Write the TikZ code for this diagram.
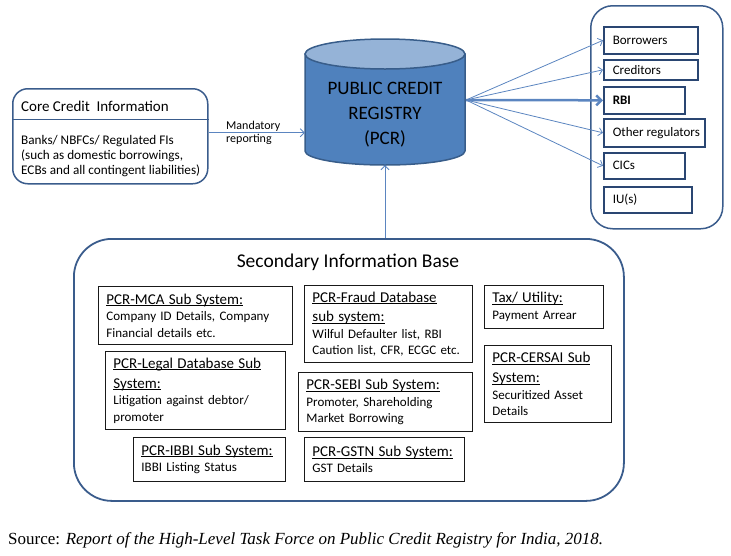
\documentclass[tikz,border=0pt]{standalone}
\usepackage{fontspec}
\setmainfont{Carlito}
\newfontfamily\capfont{Liberation Serif}
\usetikzlibrary{arrows.meta}
\definecolor{cylbody}{HTML}{4F81BD}
\definecolor{cyltop}{HTML}{95B3D7}
\definecolor{cylline}{HTML}{385D8A}
\definecolor{boxline}{HTML}{3A5C8C}
\definecolor{navy}{HTML}{2A4672}
\definecolor{conncol}{HTML}{5B85C0}
\newcommand\hd[1]{{\fontsize{15}{16.5}\selectfont\underline{\smash{#1}}\vphantom{#1}}}
\newcommand\lbox[2]{\makebox[#1][l]{#2}}
\tikzset{
  bodyfont/.style={font=\fontsize{13}{16.5}\selectfont},
  subbox/.style={draw=black!90, line width=0.9pt, rectangle, anchor=north west,
    inner xsep=8pt, inner ysep=2pt, align=left, bodyfont},
  tgtbox/.style={draw=navy, line width=1.6pt, rectangle, anchor=north west,
    inner xsep=9pt, inner ysep=0pt, font=\fontsize{13}{15}\selectfont},
  bigbox/.style={draw=boxline, line width=1.5pt, rectangle, anchor=north west},
  conn/.style={draw=conncol, line width=0.8pt, -{Straight Barb[length=4pt,width=8pt]}},
  thickconn/.style={draw=conncol, line width=2.5pt, -{Straight Barb[length=5pt,width=10pt]}},
  plain/.style={inner sep=0pt, anchor=west, align=left}
}
\begin{document}
\begin{tikzpicture}[x=1pt,y=-1pt]
\useasboundingbox (0,0) rectangle (731,555);
% core credit box
\node[bigbox, rounded corners=15pt, minimum width=195pt, minimum height=95pt] (core) at (12,88) {};
\draw[draw=boxline, line width=1pt] (core.west |- 0,119) -- (core.east |- 0,119);
\node[plain, font=\fontsize{15}{17}\selectfont] (coretitle) at (21,106) {Core Credit\ \ Information};
\node[plain, font=\fontsize{13.2}{15.3}\selectfont, anchor=north west] (corebody) at (21,135)
  {Banks/ NBFCs/ Regulated FIs\\(such as domestic borrowings,\\ECBs and all contingent liabilities)};
% cylinder
\filldraw[fill=cylbody, draw=cylline, line width=1.5pt]
  (305,54) -- (305,151) .. controls (305,158.73) and (340.8,165) .. (385,165)
  .. controls (429.2,165) and (465,158.73) .. (465,151) -- (465,54) -- cycle;
\filldraw[fill=cyltop, draw=cylline, line width=1.5pt] (385,54) ellipse [x radius=80, y radius=15];
\node[minimum width=160pt, minimum height=127pt, inner sep=0pt] (pcr) at (385,101.5) {};
\node[align=center, inner sep=0pt, font=\fontsize{19}{25}\selectfont] (pcrlbl) at (385,115)
  {PUBLIC CREDIT\\REGISTRY\\(PCR)};
% mandatory reporting
\draw[conn] ([yshift=3.5pt]core.east) -- ([yshift=3.5pt]core.east -| pcr.west);
\node[align=left, inner sep=0pt, font=\fontsize{12}{13}\selectfont, anchor=west] (mand) at (226,133)
  {Mandatory\\reporting};
% right box
\node[bigbox, rounded corners=22pt, minimum width=132pt, minimum height=223pt] (rbox) at (590,5) {};
\node[tgtbox, minimum width=94pt, minimum height=27pt] (bor) at (603,26) {\lbox{76pt}{Borrowers}};
\node[tgtbox, minimum width=94pt, minimum height=20pt] (cred) at (603,59) {\lbox{76pt}{Creditors}};
\node[tgtbox, minimum width=81pt, minimum height=27pt] (rbi) at (603,86) {\lbox{63pt}{\bfseries RBI}};
\node[tgtbox, minimum width=101pt, minimum height=28pt] (oth) at (603,118) {\lbox{83pt}{Other regulators}};
\node[tgtbox, minimum width=81pt, minimum height=26pt] (cic) at (603,152) {\lbox{63pt}{CICs}};
\node[tgtbox, minimum width=88pt, minimum height=26pt] (iu) at (603,186) {\lbox{70pt}{IU(s)}};
\coordinate (src) at (466,100);
\draw[conn] (src) -- (bor.west);
\draw[conn] (src) -- (cred.west);
\draw[thickconn] (src) -- (rbi.west);
\draw[conn] (src) -- (oth.west);
\draw[conn] (src) -- (cic.west);
% secondary box
\node[bigbox, line width=1.8pt, rounded corners=38pt, minimum width=550pt, minimum height=262pt] (sec) at (73,238) {};
\draw[conn] (pcr.south |- sec.north) -- (pcr.south);
\node[inner sep=0pt, font=\fontsize{19.5}{22}\selectfont] (sectitle) at (348,262) {Secondary Information Base};
\node[subbox, minimum width=194pt, minimum height=58pt, text width=178pt] (mca) at (98,286)
  {\hd{PCR-MCA Sub System:}\\Company ID Details, Company\\Financial details etc.};
\node[subbox, minimum width=180pt, minimum height=78pt, text width=164pt] (legal) at (105,351)
  {\hd{PCR-Legal Database Sub}\\[3.5pt]\hd{System:}\\Litigation against debtor/\\promoter};
\node[subbox, minimum width=152pt, minimum height=44pt, text width=136pt] (ibbi) at (133,437)
  {\hd{PCR-IBBI Sub System:}\\IBBI Listing Status};
\node[subbox, minimum width=168pt, minimum height=77pt, text width=152pt] (fraud) at (304,285)
  {\hd{PCR-Fraud Database}\\[3pt]\hd{sub system:}\\Wilful Defaulter list, RBI\\Caution list, CFR, ECGC etc.};
\node[subbox, minimum width=174pt, minimum height=59pt, text width=158pt] (sebi) at (298,372)
  {\hd{PCR-SEBI Sub System:}\\Promoter, Shareholding\\Market Borrowing};
\node[subbox, minimum width=160pt, minimum height=44pt, text width=144pt] (gstn) at (304,437)
  {\hd{PCR-GSTN Sub System:}\\GST Details};
\node[subbox, minimum width=119pt, minimum height=43pt, text width=103pt] (tax) at (484,285)
  {\hd{Tax/ Utility:}\\Payment Arrear};
\node[subbox, minimum width=127pt, minimum height=77pt, text width=111pt] (cersai) at (484,345)
  {\hd{PCR-CERSAI Sub}\\[3.5pt]\hd{System:}\\Securitized Asset\\Details};
% caption
\node[plain, font=\capfont\fontsize{17}{19}\selectfont] (caption) at (8,540)
  {Source: \textit{Report of the High-Level Task Force on Public Credit Registry for India, 2018.}};
\end{tikzpicture}
\end{document}
